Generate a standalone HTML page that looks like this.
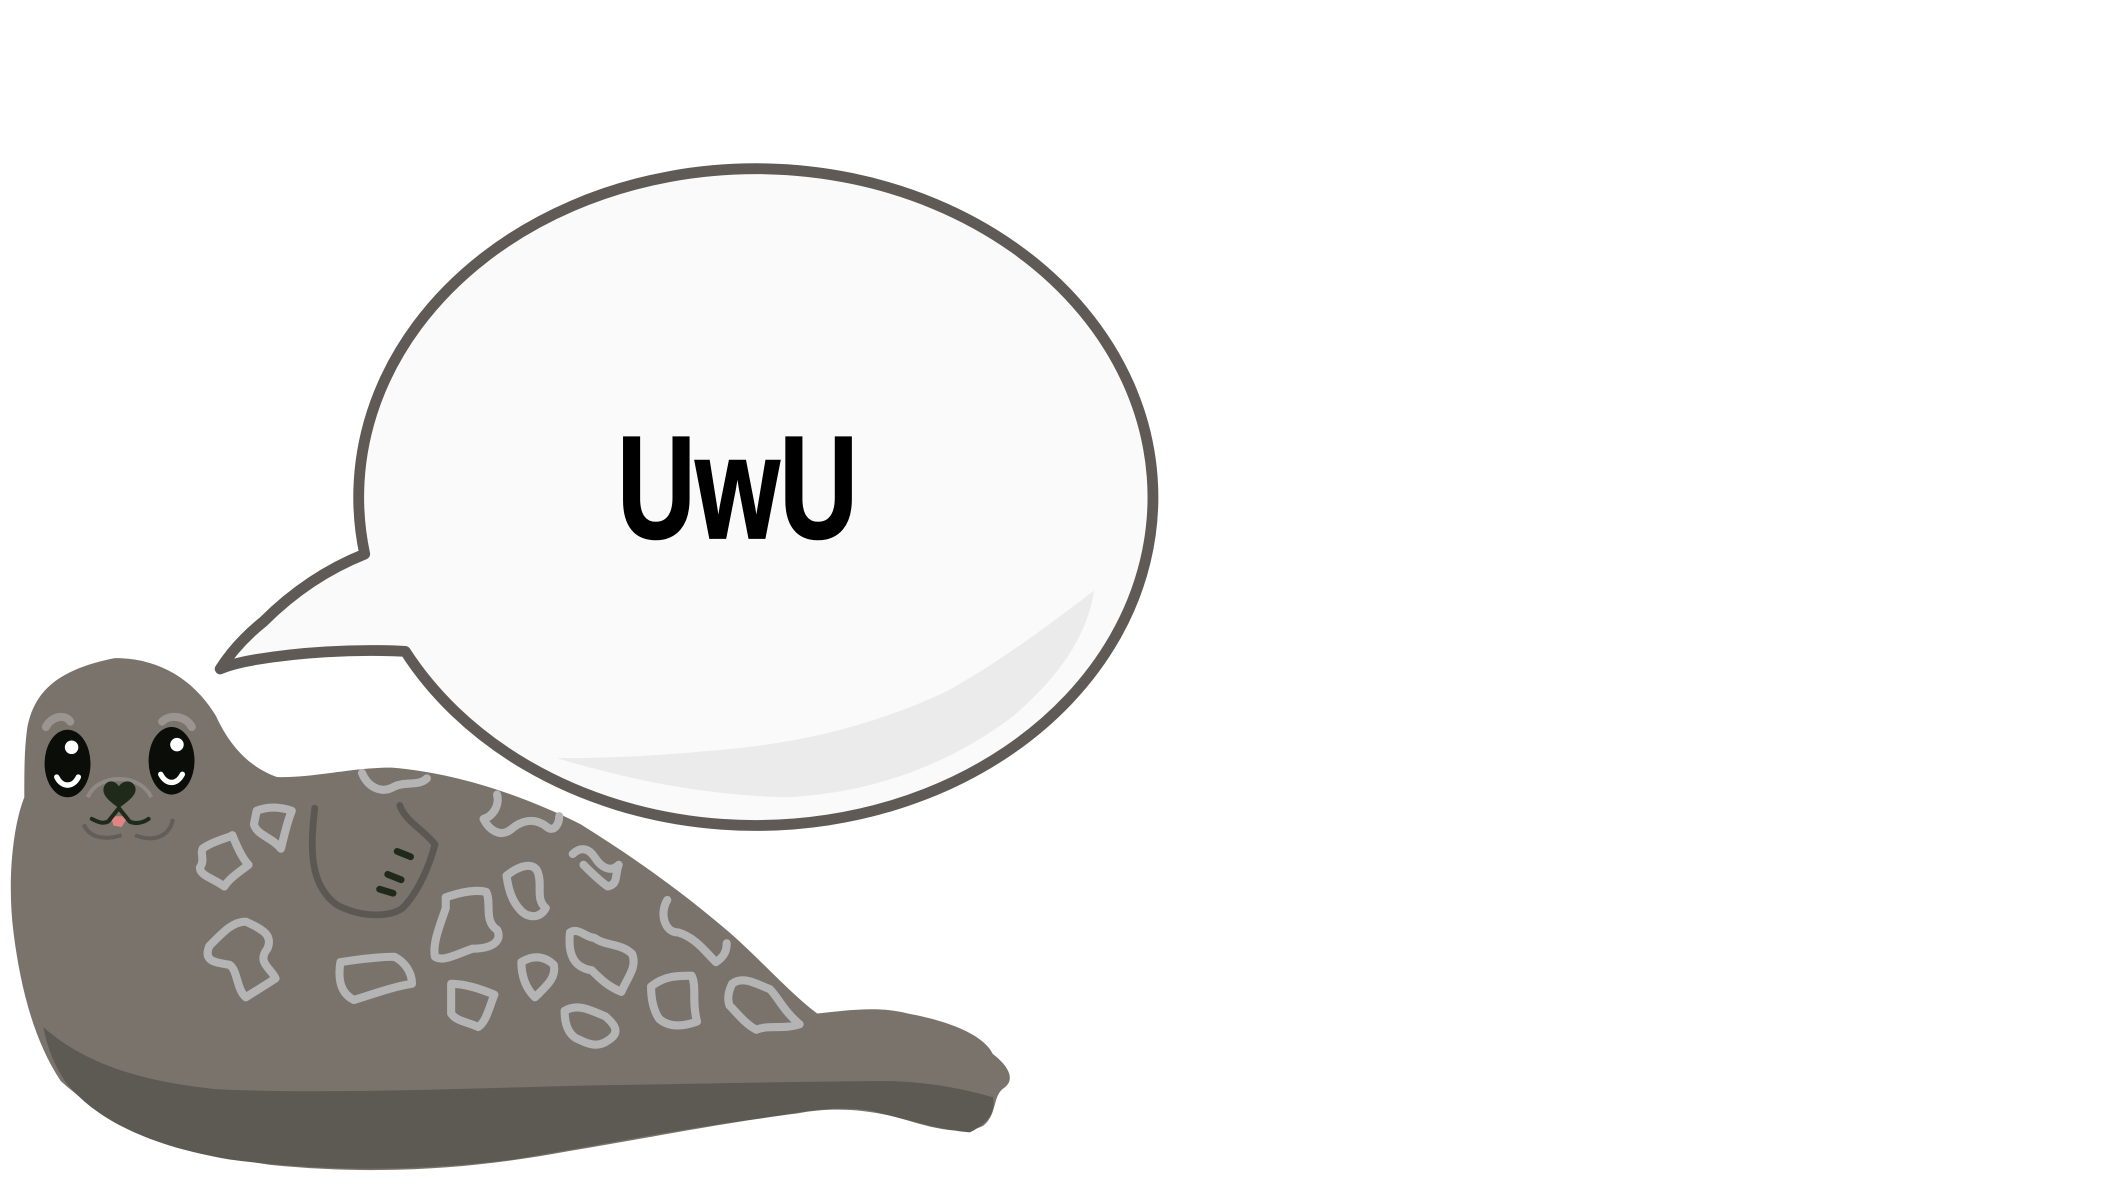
<!DOCTYPE html>
<html><head><meta charset="utf-8"><style>
html,body{margin:0;padding:0;background:#fff;width:2118px;height:1200px;overflow:hidden}
svg{display:block}
</style></head><body>
<svg width="2118" height="1200" viewBox="0 0 1568 888" preserveAspectRatio="none" xmlns="http://www.w3.org/2000/svg">
<rect width="1568" height="888" fill="#fff"/>
<g>
<path d="M270,410 A294,243 0 1 1 300,482 C260,480 220,483 190,488 C178,490 170,492 163,495 C170,484 180,472 195,460 C215,440 240,422 270,410 Z" fill="#fafafa" stroke="#5f5a55" stroke-width="8" stroke-linejoin="round"/>
<path d="M412,561 C470,578 520,588 580,590 C640,588 700,568 750,530 C785,500 805,470 810,437 C780,460 740,490 700,512 C640,540 580,552 520,556 C480,560 440,561 412,561 Z" fill="#ebebeb"/>
<text x="546" y="398" text-anchor="middle" font-family="Liberation Sans, sans-serif" font-weight="bold" font-size="108" textLength="178" lengthAdjust="spacingAndGlyphs" fill="#000" stroke="#000" stroke-width="1.5">UwU</text>
</g>
<g>
<path d="M20,540 C25,510 45,495 85,487 C120,487 145,505 160,530 C170,552 185,568 205,575 C230,576 260,568 290,568 C340,572 390,590 430,610 C470,635 505,660 540,690 C565,712 585,735 605,750 C625,748 650,744 672,750 C700,755 728,765 735,780 C748,790 752,800 742,806 C735,812 738,825 728,833 C715,840 695,836 675,830 C650,822 620,818 590,824 C540,830 480,842 420,852 C350,865 280,870 200,862 C130,852 80,832 45,800 C25,770 15,730 10,690 C5,650 10,610 18,590 C18,570 18,555 20,540 Z" fill="#7a736b"/>
<path d="M32,760 C60,785 100,800 160,806 C250,810 350,805 450,803 C530,802 600,800 660,800 C690,801 715,806 735,812 C738,825 728,833 718,838 C695,836 670,828 645,822 C615,817 590,824 560,828 C500,836 440,848 380,858 C300,868 230,866 170,858 C110,848 70,828 48,800 C40,788 35,775 32,760 Z" fill="#5d5953"/>
<g fill="none" stroke="#b4b4b4" stroke-width="6" stroke-linejoin="round" stroke-linecap="round">
<path d="M268,572 C272,582 282,588 292,582 C300,578 310,582 316,576"/>
<path d="M190,600 C200,596 210,598 216,600 C212,610 210,620 208,628 C202,620 190,618 188,610 Z"/>
<path d="M150,628 C158,622 170,620 172,618 C176,628 180,636 184,640 C176,646 170,650 166,656 C158,650 148,648 148,642 C152,636 148,632 150,628 Z"/>
<path d="M155,700 C165,690 172,682 182,682 C195,688 202,692 198,702 C190,712 200,716 204,724 C195,730 188,734 182,738 C175,732 176,718 170,714 C160,712 150,712 155,700 Z"/>
<path d="M252,712 C265,710 280,708 292,708 C300,712 305,720 305,728 C292,730 278,735 262,740 C252,735 250,725 252,712 Z"/>
<path d="M368,588 C370,596 365,604 358,606 C362,614 370,620 378,614 C385,608 395,604 405,612 C410,616 414,610 414,604"/>
<path d="M375,648 C385,640 395,638 398,645 C402,655 396,665 404,672 C400,680 390,680 384,672 C378,665 376,656 375,648 Z"/>
<path d="M330,664 C342,660 352,658 360,660 C364,668 358,682 368,688 C372,696 365,702 350,702 C338,706 328,712 322,708 C320,698 326,684 330,672 Z"/>
<path d="M334,728 C345,728 356,732 366,736 C362,746 360,756 354,760 C346,756 338,756 334,750 Z"/>
<path d="M386,712 C395,706 404,708 410,714 C412,724 404,730 396,738 C390,732 386,724 386,712 Z"/>
<path d="M424,632 C430,626 436,628 440,634 C445,642 452,646 458,640 C455,648 458,654 450,656 C444,652 438,646 432,640"/>
<path d="M418,748 C428,742 438,748 448,752 C455,758 460,764 450,770 C442,776 434,772 426,768 C420,764 418,756 418,748 Z"/>
<path d="M422,690 C428,686 434,694 440,694 C448,700 460,698 468,706 C472,716 464,724 460,734 C450,730 444,724 438,718 C426,716 420,708 422,690 Z"/>
<path d="M482,730 C492,722 502,722 512,722 C516,730 512,740 516,756 C505,760 495,760 488,754 C484,748 482,740 482,730 Z"/>
<path d="M494,666 C488,676 492,690 502,690 C515,694 522,704 530,712 C536,708 538,704 538,698"/>
<path d="M542,728 C550,722 560,728 570,732 C576,738 580,748 592,758 C580,762 570,758 560,762 C552,758 546,750 540,744 C538,738 540,732 542,728 Z"/>
</g>
<path d="M233,598 C230,625 228,655 250,670 C270,680 290,678 298,672 C310,660 318,640 322,625 C315,615 300,608 296,596" fill="none" stroke="#5b5853" stroke-width="5" stroke-linecap="round"/>
<g stroke="#1f2a1a" stroke-width="5" stroke-linecap="round">
<line x1="294" y1="630" x2="304" y2="634"/>
<line x1="287" y1="647" x2="297" y2="651"/>
<line x1="281" y1="658" x2="291" y2="661"/>
</g>
<g>
<path d="M34,538 C38,530 48,528 52,534" stroke="#9a9590" stroke-width="6" fill="none" stroke-linecap="round"/>
<path d="M120,534 C126,528 138,530 142,538" stroke="#9a9590" stroke-width="6" fill="none" stroke-linecap="round"/>
<ellipse cx="50" cy="565" rx="17" ry="25" fill="#0a0d08"/>
<ellipse cx="127" cy="563" rx="17" ry="25" fill="#0a0d08"/>
<circle cx="53" cy="553" r="5" fill="#fff"/>
<circle cx="131" cy="551" r="5" fill="#fff"/>
<path d="M42,575 C46,583 54,583 58,575" stroke="#fff" stroke-width="4" fill="none" stroke-linecap="round"/>
<path d="M119,573 C123,581 131,581 135,573" stroke="#fff" stroke-width="4" fill="none" stroke-linecap="round"/>
<path d="M65,590 C72,572 104,572 112,590" stroke="#8f8a85" stroke-width="3" fill="none"/>
<path d="M88,598 C80,592 75,588 77,582 C80,576 86,578 88,582 C90,578 97,576 100,582 C102,588 96,592 88,598 Z" fill="#1f2a1a"/>
<path d="M82,604 L95,604 L90,612 L84,611 Z" fill="#e08583"/>
<path d="M88,598 L80,608 C76,610 72,608 68,606 M88,598 L96,608 C100,610 106,609 110,606" stroke="#1f2a1a" stroke-width="3" fill="none" stroke-linecap="round"/>
<path d="M62,610 C66,620 78,622 90,618 M100,618 C115,624 126,618 128,606" stroke="#615d58" stroke-width="3" fill="none"/>
</g>
</g>
</svg>
</body></html>
